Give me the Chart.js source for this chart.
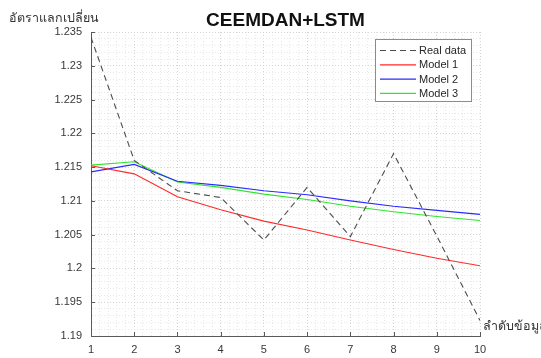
<!DOCTYPE html>
<html>
<head>
<meta charset="utf-8">
<script src="https://cdn.jsdelivr.net/npm/chart.js@4/dist/chart.umd.min.js"></script>
<style>
  body { margin: 0; background: #fff; }
</style>
</head>
<body>
<canvas id="rateChart" width="541" height="358"></canvas>
<script>
const xValues = [1, 2, 3, 4, 5, 6, 7, 8, 9, 10];
const realData = [1.2342, 1.2160, 1.2115, 1.2105, 1.2042, 1.2120, 1.2047, 1.2170, 1.2048, 1.1923];
const model1 = [1.2152, 1.2140, 1.2106, 1.2087, 1.2070, 1.2057, 1.2042, 1.2028, 1.2015, 1.2004];
const model2 = [1.2143, 1.2154, 1.2129, 1.2123, 1.2115, 1.2109, 1.2100, 1.2092, 1.2086, 1.2080];
const model3 = [1.2153, 1.2158, 1.2128, 1.2120, 1.2110, 1.2102, 1.2092, 1.2084, 1.2077, 1.2071];

const xTicks = [1, 2, 3, 4, 5, 6, 7, 8, 9, 10];
const yTicks = [1.19, 1.195, 1.2, 1.205, 1.21, 1.215, 1.22, 1.225, 1.23, 1.235];
const yTickLabels = ['1.19', '1.195', '1.2', '1.205', '1.21', '1.215', '1.22', '1.225', '1.23', '1.235'];

const chartTitle = 'CEEMDAN+LSTM';
const yAxisLabel = 'อัตราแลกเปลี่ยน';
const xAxisLabel = 'ลำดับข้อมูล';

const tickFont = { family: 'Arial, "Liberation Sans", sans-serif', size: 11 };
const axisColor = '#5a5a5a';

const isMajor = (v, majors) => majors.some(m => Math.abs(m - v) < 1e-7);

// minor grid every 1/5 of a major step
function minorTicks(majors) {
  const out = [];
  for (let i = 0; i < majors.length - 1; i++) {
    const step = (majors[i + 1] - majors[i]) / 5;
    for (let k = 0; k < 5; k++) out.push({ value: Math.round((majors[i] + k * step) * 1e7) / 1e7 });
  }
  out.push({ value: majors[majors.length - 1] });
  return out;
}

const toPoints = arr => arr.map((v, i) => ({ x: xValues[i], y: v }));

// draws title, axis labels, inward ticks and the boxed legend
const matlabLook = {
  id: 'matlabLook',
  afterDraw(chart) {
    const { ctx, chartArea, scales } = chart;
    ctx.save();

    ctx.strokeStyle = axisColor;
    ctx.lineWidth = 1;
    ctx.beginPath();
    xTicks.forEach(v => {
      const px = Math.round(scales.x.getPixelForValue(v)) + 0.5;
      ctx.moveTo(px, chartArea.bottom);
      ctx.lineTo(px, chartArea.bottom - 4);
    });
    yTicks.forEach(v => {
      const py = Math.round(scales.y.getPixelForValue(v)) + 0.5;
      ctx.moveTo(chartArea.left, py);
      ctx.lineTo(chartArea.left + 4, py);
    });
    ctx.stroke();

    ctx.fillStyle = '#111';
    ctx.font = 'bold 19px Arial, "Liberation Sans", sans-serif';
    ctx.textAlign = 'center';
    ctx.textBaseline = 'alphabetic';
    ctx.fillText(chartTitle, (chartArea.left + chartArea.right) / 2, 26);

    ctx.fillStyle = '#333';
    ctx.font = '12.5px Tahoma, "Noto Sans", "DejaVu Sans", sans-serif';
    ctx.textAlign = 'left';
    ctx.fillText(yAxisLabel, 9, 22);
    ctx.fillText(xAxisLabel, 483, 330);

    // legend
    const lx = 375.5, ly = 39.5, lw = 96, lh = 62;
    ctx.fillStyle = '#fff';
    ctx.fillRect(lx, ly, lw, lh);
    ctx.strokeStyle = '#8c8c8c';
    ctx.strokeRect(lx, ly, lw, lh);
    ctx.font = '11px Arial, "Liberation Sans", sans-serif';
    ctx.textBaseline = 'middle';
    chart.data.datasets.forEach((ds, i) => {
      const yy = 50.5 + i * 14.3;
      ctx.strokeStyle = ds.borderColor;
      ctx.lineWidth = 1.2;
      ctx.setLineDash(ds.borderDash || []);
      ctx.beginPath();
      ctx.moveTo(380, yy);
      ctx.lineTo(416, yy);
      ctx.stroke();
      ctx.setLineDash([]);
      ctx.fillStyle = '#262626';
      ctx.fillText(ds.label, 419, yy + 0.5);
    });

    ctx.restore();
  }
};

const ctx = document.getElementById('rateChart').getContext('2d');
new Chart(ctx, {
  type: 'line',
  data: {
    datasets: [
      { label: 'Real data', data: toPoints(realData), borderColor: '#4d4d4d', borderDash: [6, 4], borderWidth: 1.1 },
      { label: 'Model 1', data: toPoints(model1), borderColor: '#ff2a2a', borderWidth: 1.1 },
      { label: 'Model 2', data: toPoints(model2), borderColor: '#2a2aff', borderWidth: 1.1 },
      { label: 'Model 3', data: toPoints(model3), borderColor: '#2ee62e', borderWidth: 1.1 }
    ]
  },
  options: {
    responsive: false,
    animation: false,
    devicePixelRatio: 1,
    elements: { point: { radius: 0 }, line: { tension: 0 } },
    layout: { padding: { top: 32, right: 61, left: 0, bottom: 0 } },
    plugins: {
      legend: { display: false },
      title: { display: false },
      tooltip: { enabled: false }
    },
    scales: {
      x: {
        type: 'linear',
        min: 1,
        max: 10,
        afterBuildTicks: scale => { scale.ticks = minorTicks(xTicks); },
        afterFit: scale => { scale.height = 22; },
        ticks: {
          autoSkip: false,
          maxRotation: 0,
          padding: 7,
          color: '#383838',
          font: tickFont,
          callback: v => isMajor(v, xTicks) ? String(Math.round(v)) : ''
        },
        grid: {
          drawTicks: false,
          color: c => isMajor(c.tick.value, xTicks) ? '#d4d4d4' : '#e8e8e8',
          lineWidth: 1
        },
        border: { display: true, color: axisColor, width: 1, dash: [1, 2] }
      },
      y: {
        min: 1.19,
        max: 1.235,
        afterBuildTicks: scale => { scale.ticks = minorTicks(yTicks); },
        afterFit: scale => { scale.width = 91; },
        ticks: {
          autoSkip: false,
          padding: 9,
          color: '#383838',
          font: tickFont,
          callback: v => {
            const i = yTicks.findIndex(m => Math.abs(m - v) < 1e-7);
            return i >= 0 ? yTickLabels[i] : '';
          }
        },
        grid: {
          drawTicks: false,
          color: c => isMajor(c.tick.value, yTicks) ? '#d4d4d4' : '#e8e8e8',
          lineWidth: 1
        },
        border: { display: true, color: axisColor, width: 1, dash: [1, 2] }
      }
    }
  },
  plugins: [matlabLook]
});
</script>
</body>
</html>
